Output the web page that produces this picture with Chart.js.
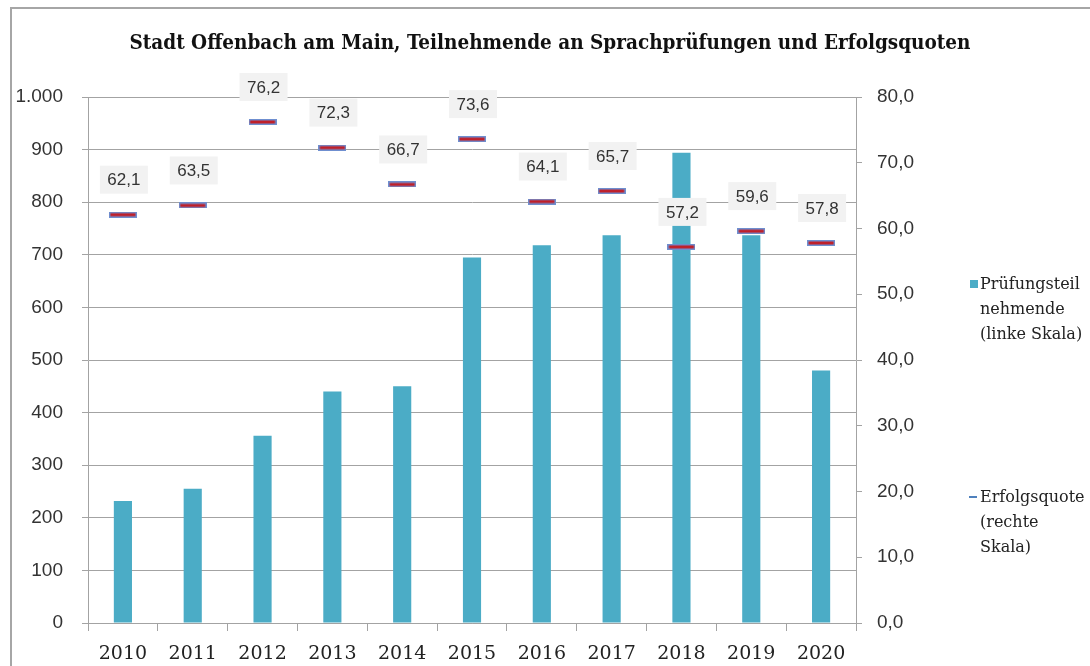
<!DOCTYPE html>
<html>
<head>
<meta charset="utf-8">
<script src="https://cdn.jsdelivr.net/npm/chart.js@4.4.1/dist/chart.umd.min.js"></script>
<style>
  body { margin: 0; background: #fff; overflow: hidden; }
  .frame { position: absolute; left: 10px; top: 7px; width: 1200px; height: 800px;
    border-left: 2px solid #a6a6a6; border-top: 2px solid #a6a6a6; }
  .chart-wrap { position: absolute; left: 0; top: 0; width: 1090px; height: 666px; }
  .title { position: absolute; left: 0; width: 1100px; top: 29px; text-align: center;
    font-family: "DejaVu Serif", serif; font-stretch: condensed; font-weight: bold;
    font-size: 20.5px; line-height: 26px; color: #111; }
  .legend-item { position: absolute; left: 980px; font-family: "DejaVu Serif", serif;
    font-size: 16px; line-height: 25px; color: #222; }
  .legend-box { position: absolute; left: 970px; top: 280px; width: 8px; height: 8px; background: #4bacc6; }
  .legend-dash { position: absolute; left: 969px; top: 496px; width: 8px; height: 2px; background: #4f81bd; }
</style>
</head>
<body>
<div class="frame"></div>
<div class="chart-wrap"><canvas id="myChart" width="1090" height="666"></canvas></div>
<div class="title">Stadt Offenbach am Main, Teilnehmende an Sprachprüfungen und Erfolgsquoten</div>
<div class="legend-box"></div>
<div class="legend-item" style="top:271px">Prüfungsteil<br>nehmende<br>(linke Skala)</div>
<div class="legend-dash"></div>
<div class="legend-item" style="top:484px">Erfolgsquote<br>(rechte<br>Skala)</div>
<script>
const years = ["2010", "2011", "2012", "2013", "2014", "2015", "2016", "2017", "2018", "2019", "2020"];
const participants = [232, 255, 356, 440, 450, 695, 718, 737, 894, 737, 480];
const successRate = [62.1, 63.5, 76.2, 72.3, 66.7, 73.6, 64.1, 65.7, 57.2, 59.6, 57.8];
const leftTicks = [0, 100, 200, 300, 400, 500, 600, 700, 800, 900, 1000];
const rightTicks = [0, 10, 20, 30, 40, 50, 60, 70, 80];

const gridColor = "#a3a3a3";
const sansFont = "'Liberation Sans', Arial, sans-serif";

// dash marker: red line with blue outline
const marker = document.createElement("canvas");
marker.width = 28;
marker.height = 6;
const mctx = marker.getContext("2d");
mctx.fillStyle = "#6f8fd0";
mctx.fillRect(0, 0, 28, 6);
mctx.fillStyle = "#c0202a";
mctx.fillRect(1.5, 1.5, 25, 3);

const fmtLeft = (v) => String(v).replace(/\B(?=(\d{3})+(?!\d))/g, ".");
const fmtRight = (v) => v.toFixed(1).replace(".", ",");

const valueLabels = {
  id: "valueLabels",
  afterDatasetsDraw(chart) {
    const ctx = chart.ctx;
    const meta = chart.getDatasetMeta(1);
    ctx.save();
    ctx.font = "17px " + sansFont;
    ctx.textAlign = "center";
    ctx.textBaseline = "middle";
    meta.data.forEach((pt, i) => {
      const text = fmtRight(successRate[i]);
      const x = pt.x + 1;
      const y = pt.y - 35;
      ctx.fillStyle = "#f2f2f2";
      ctx.fillRect(x - 24, y - 14, 48, 28);
      ctx.fillStyle = "#333";
      ctx.fillText(text, x, y + 1);
    });
    ctx.restore();
  },
};

const ctx = document.getElementById("myChart").getContext("2d");
new Chart(ctx, {
  data: {
    labels: years,
    datasets: [
      {
        type: "bar",
        label: "Prüfungsteilnehmende (linke Skala)",
        data: participants,
        backgroundColor: "#4bacc6",
        yAxisID: "y",
        categoryPercentage: 1,
        barPercentage: 0.26,
        order: 1,
      },
      {
        type: "line",
        label: "Erfolgsquote (rechte Skala)",
        data: successRate,
        showLine: false,
        pointStyle: marker,
        pointRadius: 14,
        yAxisID: "y1",
        order: 0,
      },
    ],
  },
  options: {
    responsive: false,
    animation: false,
    layout: { padding: { left: 10, right: 164, top: 97, bottom: 0 } },
    plugins: {
      legend: { display: false },
      tooltip: { enabled: false },
    },
    scales: {
      x: {
        grid: { offset: true, drawOnChartArea: false, drawTicks: true, tickLength: 8, color: gridColor },
        border: { color: gridColor },
        ticks: { font: { family: "'DejaVu Serif', serif", size: 19 }, color: "#222", padding: 12 },
        afterFit(scale) {
          scale.height = 43;
        },
      },
      y: {
        position: "left",
        min: 0,
        max: 1000,
        afterBuildTicks(scale) {
          scale.ticks = leftTicks.map((v) => ({ value: v }));
        },
        grid: { color: gridColor, tickLength: 6 },
        border: { color: gridColor },
        ticks: { callback: fmtLeft, font: { family: sansFont, size: 19 }, color: "#333", padding: 19 },
        afterFit(scale) {
          scale.width = 78;
        },
      },
      y1: {
        position: "right",
        min: 0,
        max: 80,
        afterBuildTicks(scale) {
          scale.ticks = rightTicks.map((v) => ({ value: v }));
        },
        grid: { drawOnChartArea: false, color: gridColor, tickLength: 6 },
        border: { color: gridColor },
        ticks: { callback: fmtRight, font: { family: sansFont, size: 19 }, color: "#333", padding: 15 },
        afterFit(scale) {
          scale.width = 70;
        },
      },
    },
  },
  plugins: [valueLabels],
});
</script>
</body>
</html>
